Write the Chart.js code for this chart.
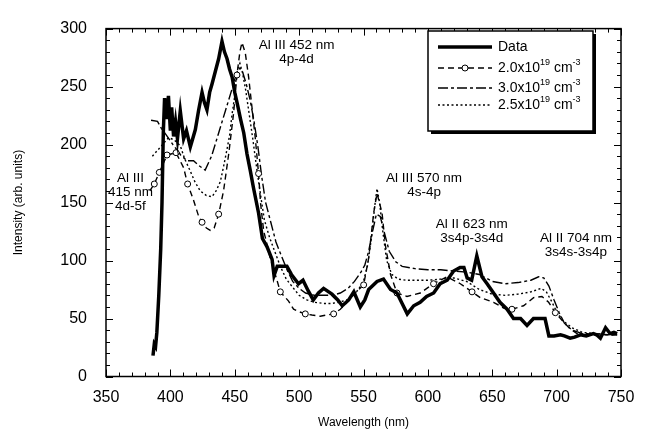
<!DOCTYPE html>
<html>
<head>
<meta charset="utf-8">
<script src="https://cdn.jsdelivr.net/npm/chart.js@4.4.1/dist/chart.umd.min.js"></script>
<style>
  html, body { margin: 0; padding: 0; background: #fff; }
  canvas { display: block; }
</style>
</head>
<body>
<canvas id="grafico" width="650" height="437"></canvas>
<script>
// eixos
const xTicks = [350, 400, 450, 500, 550, 600, 650, 700, 750];
const yTicks = [0, 50, 100, 150, 200, 250, 300];

// espectro medido (Data)
const dataWl = [386.5, 387.5, 388.5, 389.5, 391, 392.5, 393.5, 394.5, 395.5, 397, 398.5, 400, 401, 402.5, 404, 405.5, 407.7, 410.3, 412.5, 415.5,
  419.4, 422, 424.6, 426.5, 428.4, 430.5, 432.3, 434.9, 437.5, 440.1, 442, 444, 446, 448, 450, 452, 454.5, 457, 459.5, 462,
  464.5, 466.5, 468.5, 470, 471.5, 475, 479, 480.5, 483, 486, 490.5, 494, 499.5, 503, 507, 511, 515, 519, 525.5, 530,
  533.5, 538.5, 542.5, 547.5, 551, 554, 560.5, 565.5, 571, 576, 580, 584, 589, 594, 599, 604.5, 609.5, 615, 620, 625,
  628, 630.5, 634, 638, 642, 646, 651, 656, 661.5, 666.5, 672, 677, 682, 688.5, 691, 694, 698, 703, 706, 710.5,
  714, 718.5, 723, 728.5, 731, 734, 738, 741.5, 744.5, 747];
const dataInt = [18, 28, 26, 38, 70, 110, 150, 210, 240, 222, 242, 212, 232, 207, 220, 205, 229, 205, 212, 198,
  213, 230, 245, 236, 230, 245, 252, 263, 274, 289, 280, 274, 265, 258, 245, 235, 222, 210, 192, 178,
  163, 152, 141, 130, 119, 112, 101, 87, 95, 95, 95, 88, 80, 83, 74, 66, 72, 76, 71, 66,
  61, 66, 73, 60, 66, 75, 82, 84, 75, 72, 63, 54, 61, 64, 69, 72, 80, 83, 91, 94,
  94, 85, 83, 104, 86, 80, 72, 64, 58, 50, 50, 44, 50, 50, 50, 35, 35, 36, 35, 33,
  34, 36, 35, 37, 36, 33, 42, 37, 38, 37];

// modelo 2.0x10^19 cm^-3 (tracejado com circulos)
const n20Wl = [384, 387.5, 391.4, 397.4, 404.4, 410.3, 413.4, 418, 422, 424.6, 428, 431, 434, 437.5, 441.3, 445.2, 449.1, 451.7, 454, 455.6,
  458.2, 460.8, 463.4, 466, 468.5, 470, 472.4, 477.6, 482.8, 485.4, 491.8, 495.7, 499.6, 504.8, 510, 516.4, 521, 526.8, 532, 537.2,
  543.6, 550.1, 554, 557.9, 560.5, 564.4, 567, 571, 576, 583.8, 594.1, 604.4, 614.8, 625.2, 634.3, 640.7, 651, 658.8, 665.3, 674.3,
  682.1, 688.6, 693.8, 699, 705.4, 710.6, 715.8, 722, 730, 738, 746];
const n20Int = [160, 166, 176, 191, 193, 180, 166, 152, 138, 133, 128, 126, 128, 140, 160, 191, 227, 260, 280, 288,
  279, 258, 232, 205, 175, 150, 126, 102, 83, 73, 65, 58, 56, 54, 53, 52, 53, 54, 58, 64,
  72, 79, 102, 141, 158, 141, 113, 88, 72, 69, 72, 80, 86, 80, 73, 68, 64, 59, 58, 61,
  68, 69, 64, 55, 47, 41, 37, 36, 37, 36, 36];
const n20Circ = [387.5, 391.4, 397.4, 404.4, 413.4, 424.6, 437.5, 451.7, 468.5, 485.4, 504.8, 526.8, 550.1, 576, 604.4, 634.3, 665.3, 699];

// modelo 3.0x10^19 cm^-3 (traco-ponto)
const n30Wl = [385, 390, 393, 397, 402, 408, 413, 418, 422, 427, 432, 437.5, 442.7, 447.9, 451, 454, 456, 459, 462, 465,
  468, 471, 474, 478, 482, 485.5, 490.6, 495, 500, 505, 512, 520, 526, 532, 538, 543, 548, 551, 554, 557,
  560, 563, 566, 570, 575, 580, 590, 600, 610, 620, 630, 640, 650, 660, 670, 680, 686, 690, 694, 698,
  702, 706, 712, 720, 730, 740, 747];
const n30Int = [221, 220, 214, 208, 200, 191, 186, 186, 182, 178, 190, 210, 229, 248, 260, 266, 263, 252, 238, 220,
  198, 172, 150, 133, 116, 106, 92, 82, 76, 72, 70, 70, 70, 72, 76, 82, 90, 96, 108, 125,
  140, 138, 125, 108, 99, 95, 93, 92, 92, 91, 90, 88, 82, 80, 81, 83, 86, 85, 78, 66,
  55, 46, 40, 37, 37, 36, 36];

// modelo 2.5x10^19 cm^-3 (pontilhado)
const n25Wl = [386, 390, 394, 398.6, 403, 407.7, 411, 415.5, 419, 423.2, 428, 432.3, 435.5, 438.8, 441.5, 444, 446, 447.9, 449.7, 451,
  452.5, 454, 456, 458.5, 461, 464, 467, 470, 473, 477, 481, 485.4, 490, 495.7, 500, 506, 512, 519, 525, 531,
  537, 542, 546, 550, 553, 556, 558.5, 560.5, 562.5, 565, 568, 572, 577, 583, 590, 600, 610, 620, 630, 640,
  650, 660, 670, 680, 688, 692, 696, 700, 705, 712, 720, 730, 740, 747];
const n25Int = [190, 195, 200, 206, 204, 199, 188, 177, 168, 160, 156, 155, 160, 168, 182, 196, 208, 226, 240, 257,
  266, 270, 262, 247, 228, 205, 180, 157, 135, 120, 108, 95, 84, 76, 70, 66, 64, 63, 63, 64,
  66, 70, 75, 82, 95, 118, 145, 162, 150, 125, 100, 88, 84, 83, 83, 83, 84, 85, 82, 75,
  71, 70, 71, 73, 76, 73, 65, 56, 48, 42, 38, 37, 36, 36];

// rotulos das linhas
const notas = [
  { linhas: ['Al III 452 nm', '4p-4d'], wl: 498, val: 286 },
  { linhas: ['Al III 570 nm', '4s-4p'], wl: 597, val: 171 },
  { linhas: ['Al II 623 nm', '3s4p-3s4d'], wl: 634, val: 131.5 },
  { linhas: ['Al II 704 nm', '3s4s-3s4p'], wl: 715, val: 119 },
  { linhas: ['Al III', '415 nm', '4d-5f'], wl: 369, val: 171 }
];

const FONTE = '"Liberation Sans", Arial, Helvetica, sans-serif';

function pontos(wl, val) {
  return wl.map((w, i) => ({ x: w, y: val[i] }));
}

function linha(c, x1, y1, x2, y2) {
  c.beginPath();
  c.moveTo(x1, y1);
  c.lineTo(x2, y2);
  c.stroke();
}

const series = [
  { label: 'Data', data: pontos(dataWl, dataInt), borderWidth: 3.5, borderDash: [] },
  { label: '2.0', data: pontos(n20Wl, n20Int), borderWidth: 1.4, borderDash: [6, 4], circ: true },
  { label: '3.0', data: pontos(n30Wl, n30Int), borderWidth: 1.4, borderDash: [10, 3, 3, 3] },
  { label: '2.5', data: pontos(n25Wl, n25Int), borderWidth: 1.4, borderDash: [2, 2.5] }
];

const desenhos = {
  id: 'desenhos',
  afterDraw(chart) {
    const c = chart.ctx;
    const a = chart.chartArea;
    const sx = chart.scales.x, sy = chart.scales.y;
    c.save();
    c.strokeStyle = '#000';
    c.setLineDash([]);

    // moldura
    c.lineWidth = 1.5;
    c.strokeRect(a.left, a.top, a.right - a.left, a.bottom - a.top);

    // marcas para dentro
    c.lineWidth = 1;
    for (let v = xTicks[0]; v <= xTicks[xTicks.length - 1]; v += 10) {
      const px = Math.round(sx.getPixelForValue(v)) + 0.5;
      const len = v % 50 === 0 ? 7 : 4;
      linha(c, px, a.bottom, px, a.bottom - len);
      linha(c, px, a.top, px, a.top + len);
    }
    for (let v = yTicks[0]; v <= yTicks[yTicks.length - 1]; v += 10) {
      const py = Math.round(sy.getPixelForValue(v)) + 0.5;
      const len = v % 50 === 0 ? 7 : 4;
      linha(c, a.left, py, a.left + len, py);
      linha(c, a.right, py, a.right - len, py);
    }

    // rotulos
    c.fillStyle = '#000';
    c.font = '13.5px ' + FONTE;
    c.textAlign = 'center';
    c.textBaseline = 'middle';
    notas.forEach(n => {
      const px = sx.getPixelForValue(n.wl);
      const py = sy.getPixelForValue(n.val);
      n.linhas.forEach((t, i) => c.fillText(t, px, py + i * 14));
    });

    // legenda
    const L = { x: 428, y: 31, w: 165, h: 100 };
    c.fillStyle = '#000';
    c.fillRect(L.x + 3, L.y + 3, L.w, L.h);
    c.fillStyle = '#fff';
    c.fillRect(L.x, L.y, L.w, L.h);
    c.lineWidth = 1.5;
    c.strokeRect(L.x, L.y, L.w, L.h);

    const ys = [47, 68, 88, 105];
    series.forEach((s, i) => {
      const y = ys[i];
      c.lineWidth = s.borderWidth;
      c.setLineDash(s.borderDash);
      linha(c, 438, y, 492, y);
      c.setLineDash([]);
      if (s.circ) {
        c.fillStyle = '#fff';
        c.lineWidth = 1;
        c.beginPath();
        c.arc(465, y, 3, 0, Math.PI * 2);
        c.fill();
        c.stroke();
      }
      c.fillStyle = '#000';
      c.textAlign = 'left';
      c.textBaseline = 'middle';
      if (i === 0) {
        c.font = '14px ' + FONTE;
        c.fillText('Data', 498, y);
      } else {
        let x = 498;
        const partes = [[s.label + 'x10', 0], ['19', 1], [' cm', 0], ['-3', 1]];
        partes.forEach(p => {
          c.font = (p[1] ? '9px ' : '14px ') + FONTE;
          c.fillText(p[0], x, p[1] ? y - 5 : y);
          x += c.measureText(p[0]).width;
        });
      }
    });
    c.restore();
  }
};

new Chart(document.getElementById('grafico').getContext('2d'), {
  type: 'line',
  data: {
    datasets: series.map(s => ({
      label: s.label,
      data: s.data,
      borderColor: '#000',
      backgroundColor: '#fff',
      borderWidth: s.borderWidth,
      borderDash: s.borderDash,
      tension: 0,
      fill: false,
      pointBorderColor: '#000',
      pointBackgroundColor: '#fff',
      pointBorderWidth: 1,
      pointRadius: ctx => (s.circ && n20Circ.includes(ctx.raw && ctx.raw.x)) ? 3 : 0
    }))
  },
  options: {
    responsive: false,
    animation: false,
    devicePixelRatio: 1,
    layout: { padding: { left: 0, right: 29, top: 15, bottom: 0 } },
    plugins: { legend: { display: false }, tooltip: { enabled: false } },
    scales: {
      x: {
        type: 'linear',
        min: 350,
        max: 750,
        afterBuildTicks: axis => { axis.ticks = xTicks.map(v => ({ value: v })); },
        afterFit: axis => { axis.height = 60.5; },
        grid: { display: false, drawTicks: false },
        border: { display: false },
        ticks: { color: '#000', font: { family: FONTE, size: 16 }, padding: 11, maxRotation: 0 },
        title: { display: true, text: 'Wavelength (nm)', color: '#000', font: { family: FONTE, size: 12 }, padding: { top: 0, bottom: 7 } }
      },
      y: {
        min: 0,
        max: 300,
        afterBuildTicks: axis => { axis.ticks = yTicks.map(v => ({ value: v })); },
        afterFit: axis => { axis.width = 106; },
        grid: { display: false, drawTicks: false },
        border: { display: false },
        ticks: { color: '#000', font: { family: FONTE, size: 16 }, padding: 19 },
        title: { display: true, text: 'Intensity (arb. units)', color: '#000', font: { family: FONTE, size: 12 }, padding: { top: 11, bottom: 0 } }
      }
    }
  },
  plugins: [desenhos]
});
</script>
</body>
</html>
